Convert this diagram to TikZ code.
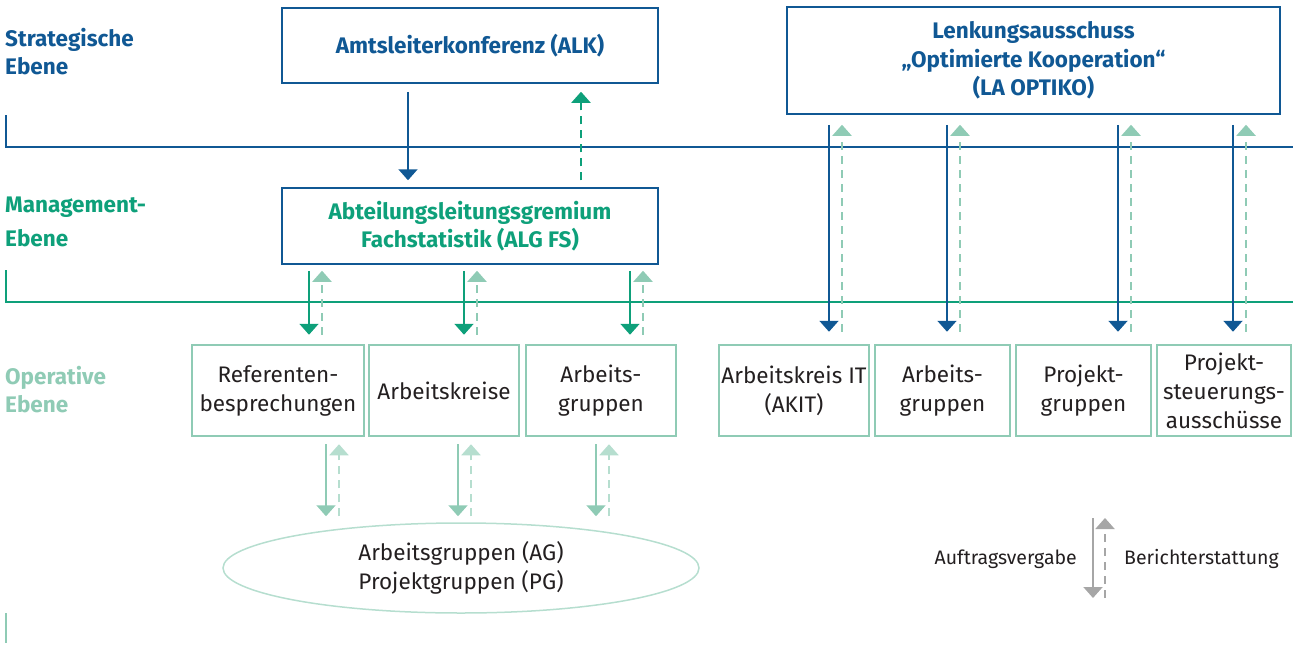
\documentclass[tikz,border=0pt]{standalone}
\usepackage{fontspec}
\setmainfont{Fira Sans}
\usetikzlibrary{arrows.meta,calc,shapes.geometric}

\definecolor{stratblue}{RGB}{16,88,148}
\definecolor{mgmtgreen}{RGB}{14,160,122}
\definecolor{opgreen}{RGB}{143,203,181}
\definecolor{oplight}{RGB}{182,222,207}
\definecolor{leggray}{RGB}{166,166,166}
\definecolor{textgray}{RGB}{35,31,32}

\begin{document}
\begin{tikzpicture}[x=1pt,y=-1pt,
  every node/.style={inner sep=0pt,font=\fontsize{22.5}{29}\selectfont,text=textgray},
  order/.style={-{Triangle[width=19pt,length=11pt]},line width=2pt},
  report/.style={order,dash pattern=on 8pt off 6pt},
  level/.style={anchor=west,align=left,font=\fontsize{22.5}{28}\selectfont\bfseries},
  topbox/.style={draw=stratblue,line width=1.5pt,align=center,font=\fontsize{22.5}{28.5}\selectfont\bfseries},
  opbox/.style={draw=opgreen,line width=2.5pt,align=center,minimum height=91pt},
  legtext/.style={font=\fontsize{19.5}{24}\selectfont}]
  \useasboundingbox (0,0) rectangle (1293,645);

  % levels
  \draw[stratblue,line width=2pt] (6,115) -- (6,147) -- (1293,147);
  \draw[mgmtgreen,line width=2pt] (6,270) -- (6,302) -- (1293,302);
  \draw[opgreen,line width=2pt] (6,613) -- (6,643);
  \node[level,text=stratblue] (strat) at (5,52) {Strategische\\Ebene};
  \node[level,text=mgmtgreen,font=\fontsize{22.5}{34}\selectfont\bfseries] (mgmt) at (5,222) {Management-\\Ebene};
  \node[level,text=opgreen] (oper) at (5,390) {Operative\\Ebene};

  % committees
  \node[topbox,text=stratblue,minimum width=376pt,minimum height=75pt] (alk) at (470,45.5) {Amtsleiterkonferenz (ALK)};
  \node[topbox,text=stratblue,minimum width=493pt,minimum height=107pt] (la) at (1033.5,60.5) {Lenkungsausschuss\\„Optimierte Kooperation“\\(LA OPTIKO)};
  \node[topbox,text=mgmtgreen,minimum width=376pt,minimum height=76pt] (alg) at (470,226) {Abteilungsleitungsgremium\\Fachstatistik (ALG FS)};

  \node[opbox,minimum width=172pt] (ref) at (278,390.5) {Referenten-\\besprechungen};
  \node[opbox,minimum width=150pt] (ak) at (444,390.5) {Arbeitskreise};
  \node[opbox,minimum width=150pt] (ag) at (601,390.5) {Arbeits-\\gruppen};
  \node[opbox,minimum width=150pt] (akit) at (794,390.5) {Arbeitskreis IT\\(AKIT)};
  \node[opbox,minimum width=135pt] (agr) at (942.5,390.5) {Arbeits-\\gruppen};
  \node[opbox,minimum width=135pt] (pg) at (1083.5,390.5) {Projekt-\\gruppen};
  \node[opbox,minimum width=134pt] (psa) at (1224,390.5) {Projekt-\\steuerungs-\\ausschüsse};

  \node[ellipse,draw=oplight,line width=1.5pt,minimum width=476pt,minimum height=90pt,align=center] (ell) at (461,568) {Arbeitsgruppen (AG)\\Projektgruppen (PG)};

  % connectors
  \draw[order,stratblue,shorten <=8pt,shorten >=7pt] ($(alk.south)+(-62,0)$) -- ($(alg.north)+(-62,0)$);
  \draw[report,mgmtgreen,shorten <=7pt,shorten >=8pt] ($(alg.north)+(111,0)$) -- ($(alk.south)+(111,0)$);

  \foreach \b/\d in {ref/31,ak/20,ag/29}{
    \draw[order,mgmtgreen,shorten <=6pt,shorten >=9pt] ($(\b.north |- alg.south)+(\d,0)$) -- ($(\b.north)+(\d,0)$);
    \draw[report,opgreen,shorten <=9pt,shorten >=6pt] ($(\b.north)+(\d+13,0)$) -- ($(\b.north |- alg.south)+(\d+13,0)$);
  }
  \foreach \b/\d in {ref/48,ak/14,ag/-5}{
    \draw[order,opgreen,shorten <=7pt,shorten >=6pt] ($(\b.south)+(\d,0)$) -- ($(\b.south |- ell.north)+(\d,0)$);
    \draw[report,oplight,shorten <=6pt,shorten >=7pt] ($(\b.south |- ell.north)+(\d+13,0)$) -- ($(\b.south)+(\d+13,0)$);
  }
  \foreach \b/\d in {akit/35,agr/4.5,pg/34.5,psa/9}{
    \draw[order,stratblue,shorten <=10pt,shorten >=12pt] ($(\b.north |- la.south)+(\d,0)$) -- ($(\b.north)+(\d,0)$);
    \draw[report,opgreen,shorten <=12pt,shorten >=10pt] ($(\b.north)+(\d+13,0)$) -- ($(\b.north |- la.south)+(\d+13,0)$);
  }

  % legend
  \coordinate (lgtop) at (1099,518);
  \coordinate (lgbot) at (1099,598);
  \draw[order,leggray] ($(lgtop)+(-6,0)$) -- ($(lgbot)+(-6,0)$);
  \draw[report,leggray] ($(lgbot)+(6,0)$) -- ($(lgtop)+(6,0)$);
  \node[legtext,anchor=east] (auf) at (1077,559) {Auftragsvergabe};
  \node[legtext,anchor=west] (ber) at (1124,559) {Berichterstattung};
\end{tikzpicture}
\end{document}
